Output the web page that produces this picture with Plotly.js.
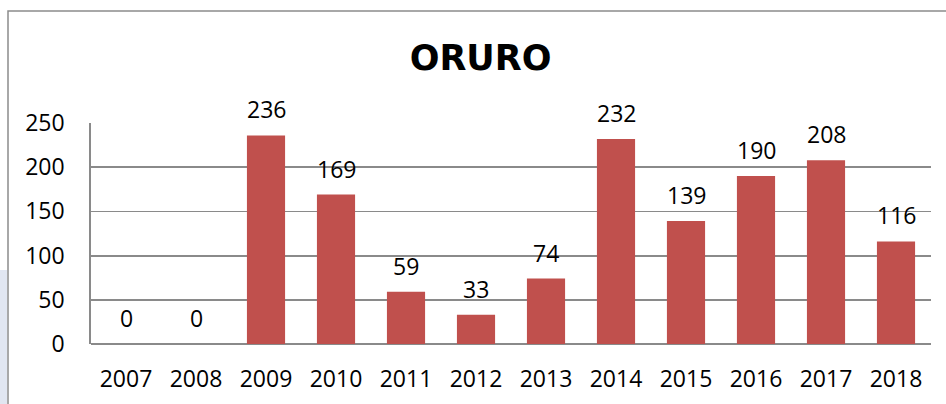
<!DOCTYPE html>
<html>
<head>
<meta charset="utf-8">
<script src="https://cdn.plot.ly/plotly-3.0.1.min.js"></script>
<style>
  html, body { margin: 0; padding: 0; background: #ffffff; }
  #chart { width: 946px; height: 404px; }
</style>
</head>
<body>
<div id="chart"></div>
<script>
const years = ['2007','2008','2009','2010','2011','2012','2013','2014','2015','2016','2017','2018'];
const values = [0, 0, 236, 169, 59, 33, 74, 232, 139, 190, 208, 116];
const yTicks = [0, 50, 100, 150, 200, 250];
const chartTitle = 'ORURO';

const labelFont = { family: '"Open Sans", "Liberation Sans", sans-serif', size: 23, color: '#000000' };

const barTrace = {
  type: 'bar',
  x: years,
  y: values,
  marker: { color: '#C0504D', line: { width: 0 } },
  showlegend: false,
  hoverinfo: 'x+y'
};

const annotations = years.map((yr, i) => ({
  x: i,
  y: values[i],
  xref: 'x',
  yref: 'y',
  text: String(values[i]),
  showarrow: false,
  yanchor: 'bottom',
  yshift: 8,
  font: labelFont
}));

const layout = {
  width: 946,
  height: 404,
  margin: { l: 91, r: 15, t: 123, b: 60 },
  paper_bgcolor: '#ffffff',
  plot_bgcolor: '#ffffff',
  bargap: 0.455,
  title: {
    text: '<b>' + chartTitle + '</b>',
    font: { family: '"DejaVu Sans", sans-serif', size: 35, color: '#000000' },
    x: 0.508,
    xanchor: 'center',
    xref: 'container',
    y: 0.858,
    yanchor: 'middle',
    yref: 'container'
  },
  xaxis: {
    type: 'category',
    range: [-0.5, years.length - 0.5],
    tickfont: labelFont,
    showgrid: false,
    showline: false,
    zeroline: false,
    ticks: 'outside',
    ticklen: 14,
    tickcolor: 'rgba(0,0,0,0)',
    fixedrange: true
  },
  yaxis: {
    range: [0, 250],
    tickvals: yTicks,
    ticktext: yTicks.map(String),
    tickfont: labelFont,
    showgrid: true,
    gridcolor: '#8A8A8A',
    gridwidth: 1.8,
    showline: true,
    linecolor: '#8A8A8A',
    linewidth: 1.8,
    zeroline: true,
    zerolinecolor: '#8A8A8A',
    zerolinewidth: 1.8,
    ticks: 'outside',
    ticklen: 20,
    tickcolor: 'rgba(0,0,0,0)',
    fixedrange: true
  },
  annotations: annotations,
  shapes: [
    {
      type: 'rect',
      xref: 'paper', yref: 'paper',
      x0: (8 - 91) / 840, x1: (955 - 91) / 840,
      y0: (344 - 415) / 221, y1: (344 - 11) / 221,
      line: { color: '#8C8C8C', width: 1.5 },
      fillcolor: 'rgba(0,0,0,0)',
      layer: 'below'
    },
    {
      type: 'rect',
      xref: 'paper', yref: 'paper',
      x0: (0 - 91) / 840, x1: (7 - 91) / 840,
      y0: (344 - 404) / 221, y1: (344 - 270) / 221,
      line: { width: 0 },
      fillcolor: 'rgba(200,210,230,0.55)',
      layer: 'below'
    }
  ]
};

Plotly.newPlot('chart', [barTrace], layout, { displayModeBar: false, staticPlot: true });
</script>
</body>
</html>
